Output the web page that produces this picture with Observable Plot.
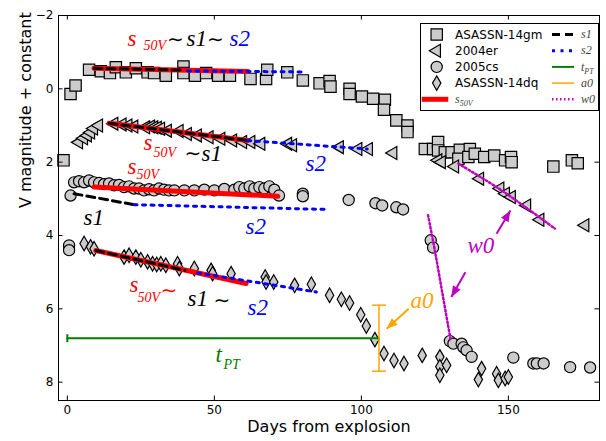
<!DOCTYPE html>
<html>
<head>
<meta charset="utf-8">
<script src="https://cdn.jsdelivr.net/npm/d3@7"></script>
<script src="https://cdn.jsdelivr.net/npm/@observablehq/plot@0.6"></script>
<style>
  html, body { margin: 0; padding: 0; background: #fff; }
  svg { display: block; }
</style>
</head>
<body>
<div id="chart"></div>
<script>
// ---------------- data ----------------
const xDomain = [-3, 181];
const yDomain = [-2, 8.5];
const xTicks = [0, 50, 100, 150];
const yTicks = [-2, 0, 2, 4, 6, 8];
const xLabel = "Days from explosion";
const yLabel = "V magnitude + constant";

// [day, V magnitude + constant]
const gm14 = [[-1.3,1.95],[1.1,0.14],[2.8,-0.09],[7.4,-0.52],[11.4,-0.48],[14.5,-0.43],[16.5,-0.59],[19.9,-0.45],
  [23.3,-0.56],[27.3,-0.45],[29.5,-0.43],[33.5,-0.36],[39.5,-0.61],[39.5,-0.43],[43.4,-0.36],[47.2,-0.43],
  [51.3,-0.36],[55.3,-0.36],[62.3,-0.27],[67.6,-0.27],[68,-0.52],[74.8,-0.45],[80.1,-0.23],[85.8,-0.15],
  [89.2,-0.21],[89.5,-0.06],[96,0.0],[96,0.14],[100.2,0.21],[104,0.27],[108,0.3],[107.7,0.57],[111.9,0.86],
  [115.7,1.0],[115.7,1.18],[121.6,1.64],[124.4,1.64],[126.1,1.45],[126.1,1.68],[128.4,1.73],[130.7,1.73],
  [133.5,1.66],[133,1.91],[136.9,1.64],[136.4,1.86],[138.6,1.77],[141.8,1.86],[145.2,1.82],[148.9,1.95],
  [150.9,1.86],[151.1,2.0],[165.3,2.12],[171.6,1.95],[173.6,2.03]];
const er04 = [[3.9,1.46],[5.6,1.35],[6.9,1.27],[8.0,1.19],[9.0,1.08],[10.7,1.0],[15.9,0.95],[18.7,0.97],
  [20.7,1.0],[22.7,1.03],[26.7,1.05],[28.4,1.03],[29.5,1.05],[30.7,1.06],[31.8,1.09],[34.1,1.14],[38.1,1.15],
  [40.9,1.23],[44.3,1.27],[48.3,1.32],[52.3,1.36],[56.3,1.41],[59.7,1.45],[62.5,1.45],[65.9,1.5],[75,1.5],
  [76.7,1.54],[92.6,1.59],[98.9,1.64],[102.5,1.64],[110.8,1.75],[126.1,1.95],[127.3,2.0],[131.8,2.12],
  [140.3,2.45],[147.2,2.72],[149.1,2.86],[151.1,2.95],[156.3,3.18],[160.8,3.57],[176.1,3.72]];
const cs05 = [[0.6,4.27],[0.6,4.4],[1.1,2.91],[2.3,2.55],[4.0,2.52],[5.7,2.55],[7.4,2.5],[9.1,2.55],[10.8,2.57],
  [12.5,2.6],[14.2,2.58],[15.9,2.63],[17.6,2.62],[19.3,2.68],[21.0,2.66],[22.7,2.72],[24.4,2.72],[26.1,2.77],
  [27.8,2.74],[29.5,2.77],[31.2,2.72],[32.9,2.75],[34.6,2.77],[36.4,2.77],[39.8,2.77],[43.2,2.77],[46.6,2.75],
  [50,2.77],[53.4,2.73],[56.8,2.75],[58.5,2.68],[60.2,2.72],[62,2.66],[63.6,2.72],[65.3,2.68],[67,2.72],
  [68.7,2.66],[70.4,2.75],[72,2.91],[80.1,2.86],[80.1,2.93],[95.7,3.03],[104.8,3.12],[107.1,3.18],[111.9,3.23],
  [114.2,3.29],[123.6,4.13],[124.4,4.33],[130.1,6.88],[131.3,6.95],[134.1,6.95],[134.7,7.05],[135.8,7.13],
  [137.5,7.31],[151.7,7.33],[158.5,7.49],[159.7,7.49],[162,7.49],[171,7.59],[177.8,7.6]];
const dq14 = [[5.7,4.22],[7.9,4.31],[9.1,4.36],[19.3,4.59],[21,4.54],[23.3,4.59],[25,4.66],[27.3,4.72],[29,4.77],
  [30.4,4.79],[31.8,4.77],[33.5,4.81],[37.5,4.77],[38.1,4.9],[43.2,4.9],[48.9,4.95],[49.4,5.04],[55.7,5.04],
  [67.3,5.13],[67.6,5.27],[70.2,5.27],[77.3,5.36],[83,5.33],[89.2,5.63],[93.2,5.74],[96,5.84],[99.8,6.16],
  [101.7,6.47],[104.6,6.84],[107.7,7.22],[111.1,7.41],[114.5,7.49],[120.7,7.27],[126.7,7.31],[126.7,7.58],
  [126.7,7.81],[129,7.54],[140.9,7.63],[139.8,7.93],[146,7.77],[146.6,7.95],[148.9,7.9],[150,7.86]];

// fitted segments: [series, day, mag]
const s50V = [["gm",9.1,-0.56],["gm",61.4,-0.47],["er",14.2,0.94],["er",61.4,1.41],
  ["cs",9.1,2.68],["cs",71.6,2.93],["dq",9.7,4.41],["dq",60.8,5.31]];
const s1 = [["gm",9.1,-0.56],["gm",38.7,-0.51],["er",14.2,0.94],["er",61.4,1.41],
  ["cs",2.3,2.86],["cs",22.7,3.16],["dq",9.7,4.41],["dq",40,4.95]];
const s2 = [["gm",40.9,-0.49],["gm",80,-0.46],["er",61.4,1.41],["er",102,1.64],
  ["cs",22.7,3.16],["cs",88.6,3.29],["dq",44.3,5.02],["dq",84.7,5.54]];
const w0 = [["cs",122.7,3.45],["cs",125,4.41],["cs",127.8,5.68],["cs",130.4,6.86],
  ["er",133,2.04],["er",147.7,2.77],["er",165.8,3.81]];
const tPT = [[0,6.8],[106,6.8]];          // plateau length (start, end)
const a0 = [[106,5.9],[106,7.7]];          // drop amplitude bar
// arrows: [day1, mag1, day2, mag2, colour]
const arrows = [[116.1,6.0,108.6,6.545,"orange"],[146.0,3.954,150.7,3.318,"#bf00bf"],[135.4,5.0,130.6,5.68,"#bf00bf"]];
// annotations: [text, colour, day, mag (baseline)]
const annoMain = [
  ["s","red",20.47,-1.18],["s1","black",40.54,-1.18],["s2","blue",55.16,-1.18],
  ["s","red",25.91,1.68],["s1","black",45.64,1.96],
  ["s","red",20.47,2.31],["s1","black",5.5,3.70],["s2","blue",60.6,3.95],
  ["s2","blue",81.01,2.23],
  ["s","red",21.15,5.53],["s1","black",40.88,5.91],["s2","blue",61.29,6.18],
  ["t","green",50.4,7.46],["w0","#bf00bf",136.1,4.49],["a0","orange",116.7,5.99]];
const annoSim = [["\u223C","black",33.9,-1.18],["\u223C","black",47.5,-1.18],["\u223C","black",39.86,1.93],
  ["\u223C","red",31.69,5.69],["\u223C","black",49.72,5.96]];
const annoSub = [["50V","red",25.91,-1.05],["50V","red",29.31,1.87],["50V","red",23.53,2.47],["50V","red",23.87,5.80],["PT","green",53.12,7.63]];

const seriesNames = ["ASASSN-14gm","2004er","2005cs","ASASSN-14dq"];
const lineNames = [["s","50V"],["s1",""],["s2",""],["t","PT"],["a0",""],["w0",""]];

// ---------------- styles ----------------
const W = 606, H = 441;
const M = {top: 15, right: 7, bottom: 41, left: 58};
const fw = W - M.left - M.right, fh = H - M.top - M.bottom;
const kx = fw / (xDomain[1] - xDomain[0]);
const ky = fh / (yDomain[1] - yDomain[0]);
const fillGray = "#cccccc";
const markers = [
  {symbol: "square", r: 6.4, rotate: 0},
  {symbol: "triangle", r: 4.8, rotate: -90},
  {symbol: "circle", r: 5.6, rotate: 0},
  {symbol: "diamond", r: 4.4, rotate: 0}
];
const lineStyles = {
  s50V: {stroke: "red", strokeWidth: 5},
  s1: {stroke: "black", strokeWidth: 3, strokeDasharray: "8,5"},
  s2: {stroke: "blue", strokeWidth: 3, strokeDasharray: "3,5.5"},
  tPT: {stroke: "green", strokeWidth: 2},
  a0: {stroke: "orange", strokeWidth: 1.5},
  w0: {stroke: "#bf00bf", strokeWidth: 2.5, strokeDasharray: "1.5,2.5"}
};
const serif = "'Liberation Serif', 'DejaVu Serif', serif";

const headSymbol = {draw(ctx, size) { const h = Math.sqrt(size); ctx.moveTo(0, 0); ctx.lineTo(-0.4*h, h); ctx.lineTo(0.4*h, h); ctx.closePath(); }};
const capH = {draw(ctx, size) { const w = Math.sqrt(size)/2; ctx.moveTo(-w, 0); ctx.lineTo(w, 0); }};
const capV = {draw(ctx, size) { const w = Math.sqrt(size)/2; ctx.moveTo(0, -w); ctx.lineTo(0, w); }};

const fmt = d => d < 0 ? "\u2212" + (-d) : String(d);
const X = d => d[0], Y = d => d[1];
const lx = d => d[1], ly = d => d[2];

const datasets = [gm14, er04, cs05, dq14];

const marks = [];
datasets.forEach((data, i) => {
  const m = markers[i];
  marks.push(Plot.dot(data, {x: X, y: Y, symbol: m.symbol, r: m.r, rotate: m.rotate, fill: fillGray, stroke: "black", strokeWidth: 1.2}));
});
const textOpts = {x: d => d[2], y: d => d[3], text: d => d[0], fill: d => d[1], textAnchor: "start", lineAnchor: "bottom"};
marks.push(
  Plot.line(s50V, {x: lx, y: ly, z: d => d[0], ...lineStyles.s50V}),
  Plot.line(s1, {x: lx, y: ly, z: d => d[0], ...lineStyles.s1}),
  Plot.line(s2, {x: lx, y: ly, z: d => d[0], ...lineStyles.s2}),
  Plot.line(tPT, {x: X, y: Y, ...lineStyles.tPT}),
  Plot.dot([tPT[0]], {x: X, y: Y, symbol: capV, r: 4.5, stroke: "green", strokeWidth: 2, fill: "none"}),
  Plot.line(a0, {x: X, y: Y, ...lineStyles.a0}),
  Plot.dot(a0, {x: X, y: Y, symbol: capH, r: 7.9, stroke: "orange", strokeWidth: 1.5, fill: "none"}),
  Plot.line(w0, {x: lx, y: ly, z: d => d[0], curve: "catmull-rom", ...lineStyles.w0}),
  Plot.link(arrows, {x1: d => d[0], y1: d => d[1], x2: d => d[2], y2: d => d[3], stroke: d => d[4], strokeWidth: 2}),
  Plot.dot(arrows, {x: d => d[2], y: d => d[3], fill: d => d[4], stroke: "none", symbol: headSymbol, r: 6.2,
    rotate: d => Math.atan2((d[3]-d[1])*ky, (d[2]-d[0])*kx) * 180 / Math.PI + 90}),
  Plot.text(annoMain, {...textOpts, fontSize: 23, fontStyle: "italic", fontFamily: serif}),
  Plot.text(annoSim, {...textOpts, fontSize: 20, fontFamily: "'DejaVu Sans', sans-serif"}),
  Plot.text(annoSub, {...textOpts, fontSize: 14, fontStyle: "italic", fontFamily: serif}),
  Plot.frame({stroke: "black", strokeWidth: 1}),
  Plot.tickX(xTicks, {x: d => d, stroke: "black", insetTop: fh - 4.5}),
  Plot.tickX(xTicks, {x: d => d, stroke: "black", insetBottom: fh - 4.5}),
  Plot.tickY(yTicks, {y: d => d, stroke: "black", insetRight: fw - 4.5}),
  Plot.tickY(yTicks, {y: d => d, stroke: "black", insetLeft: fw - 4.5}),
  Plot.axisX({ticks: xTicks, tickSize: 0, tickPadding: 5, tickFormat: fmt, label: null, fontSize: 12}),
  Plot.axisY({ticks: yTicks, tickSize: 0, tickPadding: 5, tickFormat: fmt, label: null, fontSize: 12}),
  Plot.text([xLabel], {frameAnchor: "bottom", dy: 31, fontSize: 16, fill: "black"}),
  Plot.text([yLabel], {frameAnchor: "left", dx: -33, rotate: -90, fontSize: 16, fill: "black"})
);

const chart = Plot.plot({
  width: W, height: H,
  marginTop: M.top, marginRight: M.right, marginBottom: M.bottom, marginLeft: M.left,
  style: {fontFamily: "'DejaVu Sans', sans-serif", background: "white", color: "black"},
  x: {domain: xDomain},
  y: {domain: yDomain, reverse: true},
  color: {type: "identity"},
  marks
});

// ---------------- legend (inside the frame, upper right) ----------------
const svg = d3.select(chart);
const lg = svg.append("g").attr("font-size", 12).attr("text-anchor", "start").attr("font-family", "'DejaVu Sans', sans-serif");
const bx = 420.5, by = 23.5, bw = 178, bh = 87;
lg.append("rect").attr("x", bx).attr("y", by).attr("width", bw).attr("height", bh).attr("fill", "white").attr("stroke", "black").attr("stroke-width", 1);
const rowY = i => 34.5 + i * 16.2;
const symbolTypes = {square: d3.symbolSquare, triangle: d3.symbolTriangle, circle: d3.symbolCircle, diamond: d3.symbolDiamond};
seriesNames.forEach((name, i) => {
  const m = markers[i];
  lg.append("path")
    .attr("d", d3.symbol().type(symbolTypes[m.symbol]).size(m.r * m.r * Math.PI)())
    .attr("transform", `translate(436.7,${rowY(i)}) rotate(${m.rotate})`)
    .attr("fill", fillGray).attr("stroke", "black").attr("stroke-width", 1.2);
  lg.append("text").attr("x", 455).attr("y", rowY(i)).attr("dy", "0.36em").attr("fill", "black").text(name);
});
function legendLine(key, x1, x2, y) {
  const s = lineStyles[key];
  lg.append("line").attr("x1", x1).attr("x2", x2).attr("y1", y).attr("y2", y)
    .attr("stroke", s.stroke).attr("stroke-width", s.strokeWidth)
    .attr("stroke-dasharray", s.strokeDasharray || null);
}
function legendLabel([main, sub], x, y) {
  const t = lg.append("text").attr("x", x).attr("y", y).attr("dy", "0.3em")
    .attr("font-family", serif).attr("font-style", "italic").attr("font-size", 12).attr("fill", "#444");
  t.append("tspan").text(main);
  if (sub) t.append("tspan").attr("dy", 3).attr("font-size", 8).text(sub);
}
const lineKeys = ["s50V", "s1", "s2", "tPT", "a0", "w0"];
legendLine("s50V", 421.7, 448.3, rowY(4));
legendLabel(lineNames[0], 455, rowY(4));
lineKeys.slice(1).forEach((k, i) => {
  legendLine(k, 552, 574, rowY(i));
  legendLabel(lineNames[i + 1], 581, rowY(i));
});

document.getElementById("chart").appendChild(chart);
</script>
</body>
</html>
